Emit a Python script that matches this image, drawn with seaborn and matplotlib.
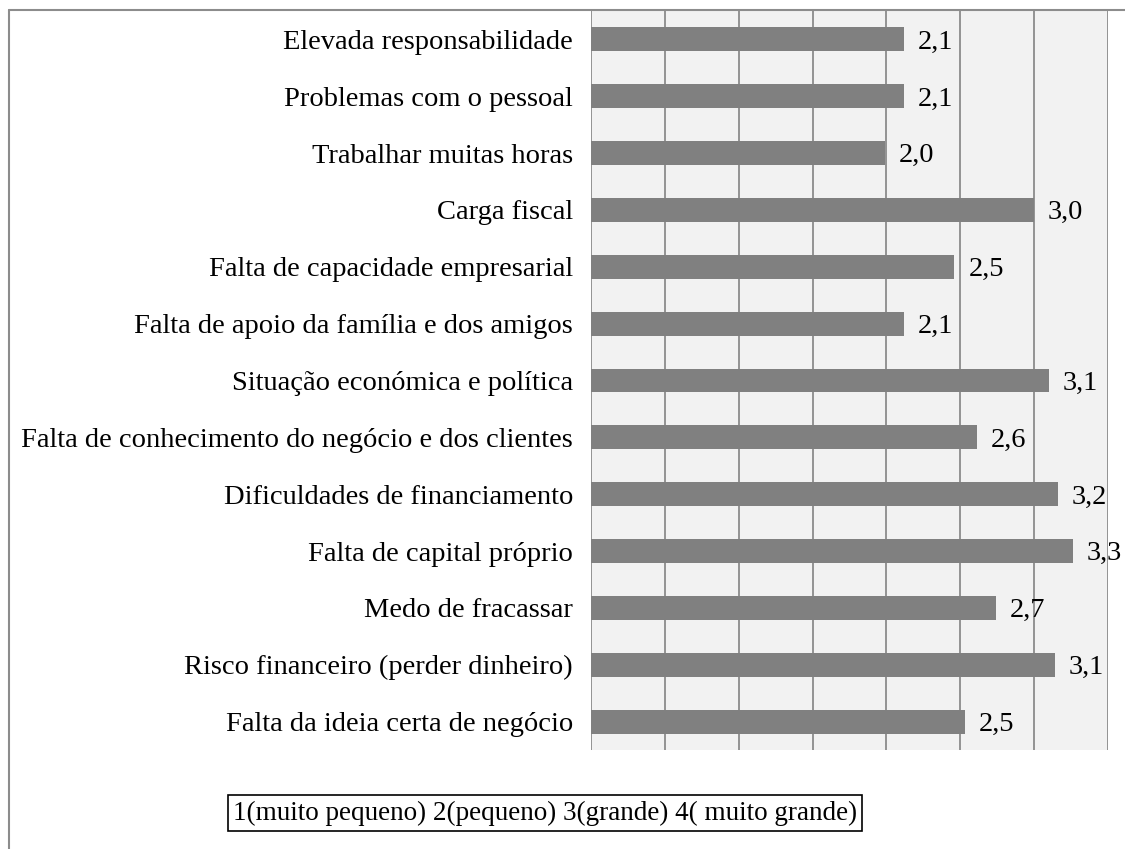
import matplotlib
matplotlib.use("Agg")
import matplotlib.pyplot as plt
from matplotlib.lines import Line2D
import seaborn as sns
import pandas as pd

categories = [
    "Elevada responsabilidade",
    "Problemas com o pessoal",
    "Trabalhar muitas horas",
    "Carga fiscal",
    "Falta de capacidade empresarial",
    "Falta de apoio da família e dos amigos",
    "Situação económica e política",
    "Falta de conhecimento do negócio e dos clientes",
    "Dificuldades de financiamento",
    "Falta de capital próprio",
    "Medo de fracassar",
    "Risco financeiro (perder dinheiro)",
    "Falta da ideia certa de negócio",
]
values = [2.12, 2.12, 1.99, 3.00, 2.46, 2.12, 3.10, 2.61, 3.16, 3.26, 2.74, 3.14, 2.53]
legend_text = "1(muito pequeno) 2(pequeno) 3(grande) 4( muito grande)"

sns.set_theme(style="white")
plt.rcParams['font.family'] = ['Liberation Serif', 'DejaVu Serif']

df = pd.DataFrame({"cat": categories, "val": values})

fig = plt.figure(figsize=(11.25, 8.49), dpi=100)
ax = fig.add_axes([591/1125, 1 - 750/849, (1108-591)/1125, (750-11)/849])
ax.set_facecolor("#f2f2f2")

sns.barplot(data=df, x="val", y="cat", orient="h", color="#808080",
            saturation=1, width=0.42, linewidth=0, ax=ax, zorder=3)

ax.set_xlim(0, 3.5)
ax.set_ylim(12.5, -0.5)
ax.set_xticks([0, 0.5, 1, 1.5, 2, 2.5, 3, 3.5])
ax.set_xticklabels([])
ax.grid(axis="x", color="#8c8c8c", linewidth=1.3, zorder=0)
ax.grid(axis="y", visible=False)
ax.set_axisbelow(True)
for s in ax.spines.values():
    s.set_visible(False)
ax.set_xlabel("")
ax.set_ylabel("")
ax.tick_params(axis="y", length=0, pad=13, labelsize=20.5, labelcolor="#000000")
ax.tick_params(axis="x", length=0)

for i, v in enumerate(values):
    ax.annotate(f"{v:.1f}".replace(".", ","), xy=(v, i), xytext=(10, -2),
                textcoords="offset points", va="center", ha="left",
                fontsize=20.5, color="#000000", annotation_clip=False, zorder=5)

fig.text(545/1125, 1 - 813/849, legend_text, ha="center", va="center",
         fontsize=19.5, color="#000000",
         bbox=dict(boxstyle="square,pad=0.2", facecolor="white",
                   edgecolor="#000000", linewidth=1.2))

fig.add_artist(Line2D([9/1125, 9/1125], [0, 1 - 10/849], transform=fig.transFigure,
                      color="#8c8c8c", linewidth=1.5))
fig.add_artist(Line2D([9/1125, 1], [1 - 10/849, 1 - 10/849], transform=fig.transFigure,
                      color="#8c8c8c", linewidth=1.5))

fig.savefig("out.png", dpi=100, facecolor="white")
